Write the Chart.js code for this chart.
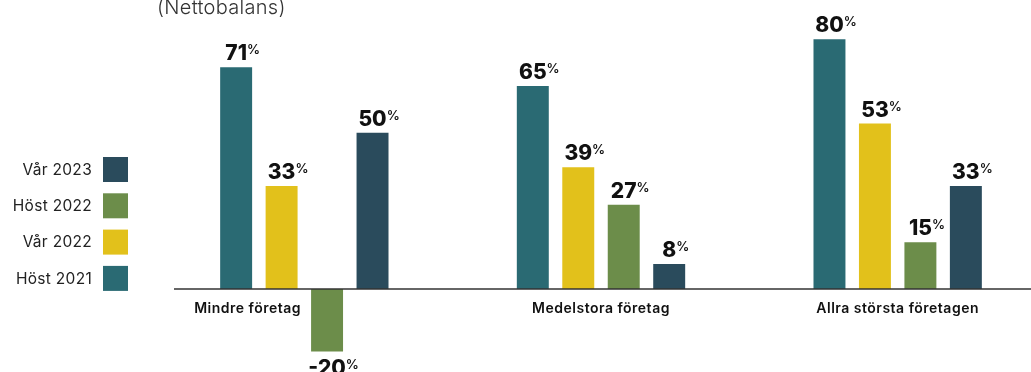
<!DOCTYPE html>
<html>
<head>
<meta charset="utf-8">
<script src="https://cdn.jsdelivr.net/npm/chart.js@4.4.1/dist/chart.umd.min.js"></script>
<style>
  html, body { margin: 0; padding: 0; background: #fff; }
  #wrap { width: 1031px; height: 372px; overflow: hidden; position: relative; }
  canvas { display: block; }
</style>
</head>
<body>
<div id="wrap"><canvas id="chart" width="1046" height="372"></canvas></div>
<script>
// ─────────────────────────────────────────────
// Data
// ─────────────────────────────────────────────
const categories = ["Mindre företag", "Medelstora företag", "Allra största företagen"];
const seriesNames = ["Höst 2021", "Vår 2022", "Höst 2022", "Vår 2023"];
const host2021 = [71, 65, 80];
const var2022  = [33, 39, 53];
const host2022 = [-20, 27, 15];
const var2023  = [50, 8, 33];
const seriesColors = ["#2a6a73", "#e2c11b", "#6c8d4a", "#2a4b5c"];
const titleText = "(Nettobalans)";

const FONT = "Inter, 'Open Sans', sans-serif";

// ─────────────────────────────────────────────
// Plugin: title, legend, axis line, labels
// ─────────────────────────────────────────────
const decorPlugin = {
  id: "decor",
  afterDatasetsDraw(chart) {
    const ctx = chart.ctx;
    const yScale = chart.scales.y;
    const xScale = chart.scales.x;
    const zeroY = yScale.getPixelForValue(0);

    ctx.save();

    // title
    ctx.fillStyle = "#333";
    ctx.font = `300 20px ${FONT}`;
    ctx.letterSpacing = "0.3px";
    ctx.textAlign = "left";
    ctx.textBaseline = "alphabetic";
    ctx.fillText(titleText, 157, 14);

    // axis line
    ctx.strokeStyle = "#333";
    ctx.lineWidth = 1.5;
    ctx.beginPath();
    ctx.moveTo(174, zeroY);
    ctx.lineTo(chart.width, zeroY);
    ctx.stroke();

    // legend (reversed, vertical)
    const ds = chart.data.datasets;
    ctx.font = `400 15.5px ${FONT}`;
    ctx.letterSpacing = "0.3px";
    ctx.textAlign = "right";
    ctx.textBaseline = "middle";
    for (let i = 0; i < ds.length; i++) {
      const d = ds[ds.length - 1 - i];
      const top = 157 + i * 36.3;
      ctx.fillStyle = d.backgroundColor;
      ctx.fillRect(103, top, 25, 25);
      ctx.fillStyle = "#222";
      ctx.fillText(d.label, 92, top + 13);
    }

    // value labels
    ctx.letterSpacing = "0px";
    ds.forEach((d, di) => {
      const meta = chart.getDatasetMeta(di);
      meta.data.forEach((bar, i) => {
        const v = d.data[i];
        const txt = String(v);
        ctx.font = `800 21px ${FONT}`;
        const w = ctx.measureText(txt).width;
        const x0 = bar.x - w / 2;
        let base;
        if (v >= 0) base = bar.y - 7;
        else base = bar.y + 6 + 18;
        ctx.fillStyle = "#111";
        ctx.textAlign = "left";
        ctx.textBaseline = "alphabetic";
        ctx.fillText(txt, x0, base);
        ctx.font = `600 13px ${FONT}`;
        ctx.fillText("%", x0 + w, base - 6);
      });
    });

    // category labels
    ctx.font = `600 14px ${FONT}`;
    ctx.letterSpacing = "0.5px";
    ctx.fillStyle = "#111";
    ctx.textBaseline = "alphabetic";
    categories.forEach((c, i) => {
      let negBar = null;
      ds.forEach((d, di) => {
        if (d.data[i] < 0) negBar = chart.getDatasetMeta(di).data[i];
      });
      if (negBar) {
        ctx.textAlign = "right";
        ctx.fillText(c, negBar.x - negBar.width / 2 - 10, 313);
      } else {
        ctx.textAlign = "center";
        ctx.fillText(c, xScale.getPixelForValue(i), 313);
      }
    });

    ctx.restore();
  }
};

// ─────────────────────────────────────────────
// Chart
// ─────────────────────────────────────────────
const values = [host2021, var2022, host2022, var2023];

new Chart(document.getElementById("chart"), {
  type: "bar",
  data: {
    labels: categories,
    datasets: seriesNames.map((name, i) => ({
      label: name,
      data: values[i],
      backgroundColor: seriesColors[i],
      borderWidth: 0,
      categoryPercentage: 0.613,
      barPercentage: 0.703,
    })),
  },
  options: {
    responsive: false,
    animation: false,
    devicePixelRatio: 1,
    layout: { padding: { left: 156, right: 0, top: 8, bottom: 5 } },
    plugins: { legend: { display: false }, tooltip: { enabled: false } },
    scales: {
      x: { display: false, offset: true },
      y: { display: false, min: -25, max: 90 },
    },
  },
  plugins: [decorPlugin],
});
</script>
</body>
</html>
